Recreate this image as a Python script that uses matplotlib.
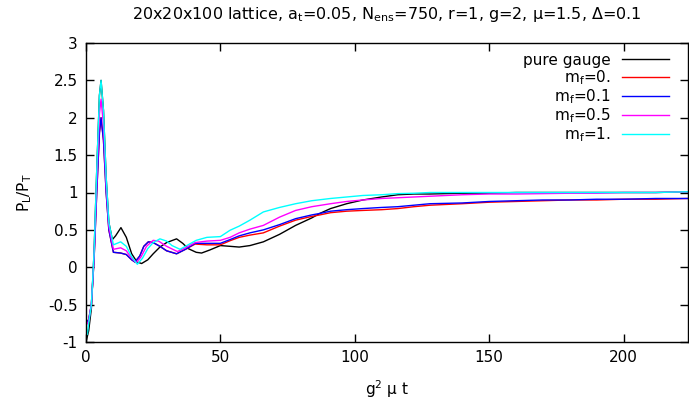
import matplotlib
matplotlib.use("Agg")
import matplotlib.pyplot as plt

plt.rcParams['font.family'] = ['DejaVu Sans']
plt.rcParams['mathtext.default'] = 'regular'
plt.rcParams['axes.unicode_minus'] = False

# pure gauge
t_pg = [0, 1, 2, 3, 4, 5, 5.6, 6.5, 7.5, 8.5, 9.8, 11, 13, 15, 17, 19, 20.7, 23, 25, 27.5, 30, 33.7, 36, 38, 41, 43, 46, 50,
        53.6, 57, 61, 66, 72, 78, 84, 87, 91, 97, 103, 110, 116, 122, 128, 140, 150, 160, 170, 180, 190, 200, 212, 224]
y_pg = [-1.0, -0.85, -0.55, 0.2, 1.3, 2.3, 2.5, 2.1, 1.2, 0.6, 0.37, 0.42, 0.53, 0.40, 0.18, 0.07, 0.05, 0.10, 0.18, 0.27,
        0.33, 0.38, 0.32, 0.25, 0.20, 0.19, 0.23, 0.29, 0.28, 0.27, 0.29, 0.34, 0.44, 0.56, 0.66, 0.72, 0.785, 0.85, 0.90,
        0.94, 0.97, 0.98, 0.98, 0.99, 0.99, 1.0, 1.0, 1.0, 1.0, 1.0, 1.0, 1.01]

# m_f = 0.
t_m0 = [0, 1, 2, 3, 4, 5, 5.6, 6.5, 7.5, 8.5, 10.2, 12.9, 15, 17, 18.2, 20, 21.5, 23.2, 25, 27.5, 30, 33.7, 37, 40.6, 45, 50,
        53.6, 57, 61, 66, 72, 78, 84, 87, 91, 97, 103, 110, 116, 122, 128, 140, 150, 160, 170, 180, 190, 200, 212, 224]
y_m0 = [-0.75, -0.7, -0.5, 0.1, 1.0, 1.8, 2.0, 1.7, 1.0, 0.5, 0.20, 0.19, 0.17, 0.10, 0.07, 0.15, 0.28, 0.34, 0.33, 0.28,
        0.22, 0.18, 0.24, 0.31, 0.30, 0.30, 0.355, 0.40, 0.43, 0.46, 0.55, 0.63, 0.68, 0.70, 0.73, 0.75, 0.76, 0.77, 0.785,
        0.81, 0.83, 0.85, 0.87, 0.88, 0.89, 0.90, 0.90, 0.91, 0.91, 0.92]

# m_f = 0.1
t_m01 = [0, 1, 2, 3, 4, 5, 5.6, 6.5, 7.5, 8.5, 10.2, 12.9, 15, 17, 18.2, 20, 21.5, 23.2, 25, 27.5, 30, 33.7, 37, 40.6, 45, 50,
         53.6, 57, 61, 66, 72, 78, 84, 87, 91, 97, 103, 110, 116, 122, 128, 140, 150, 160, 170, 180, 190, 200, 212, 224]
y_m01 = [-0.75, -0.7, -0.5, 0.1, 1.0, 1.8, 2.0, 1.7, 1.0, 0.5, 0.20, 0.19, 0.17, 0.10, 0.07, 0.15, 0.28, 0.34, 0.33, 0.28,
         0.22, 0.18, 0.24, 0.32, 0.32, 0.32, 0.37, 0.42, 0.46, 0.50, 0.57, 0.65, 0.70, 0.72, 0.75, 0.77, 0.785, 0.80, 0.81,
         0.83, 0.85, 0.86, 0.88, 0.89, 0.90, 0.90, 0.91, 0.91, 0.92, 0.92]

# m_f = 0.5
t_m05 = [0, 1, 2, 3, 4, 5, 5.6, 6.5, 7.5, 8.5, 10.2, 12.9, 15, 17, 18.7, 20.5, 22.5, 25, 27, 30, 34, 37, 40.6, 45, 50,
         53.6, 57, 61, 66, 72, 78, 84, 91, 97, 103, 110, 116, 122, 128, 140, 150, 160, 170, 180, 190, 200, 212, 224]
y_m05 = [-0.78, -0.72, -0.5, 0.15, 1.15, 2.05, 2.25, 1.9, 1.1, 0.55, 0.24, 0.26, 0.22, 0.12, 0.06, 0.14, 0.28, 0.36, 0.35,
         0.28, 0.21, 0.26, 0.33, 0.35, 0.36, 0.40, 0.46, 0.51, 0.56, 0.67, 0.76, 0.81, 0.85, 0.88, 0.90, 0.92, 0.93, 0.94,
         0.95, 0.97, 0.98, 0.98, 0.985, 0.99, 0.99, 1.0, 1.0, 1.01]

# m_f = 1.
t_m1 = [0, 0.5, 1, 2, 3, 4, 5, 5.6, 6.5, 7.5, 8.5, 10.2, 12.9, 15, 17, 19.1, 21, 23, 25, 27.5, 30, 32, 35, 38, 41, 45, 50,
        53.6, 57, 61, 66, 72, 78, 84, 91, 97, 103, 110, 116, 122, 128, 140, 150, 160, 170, 180, 190, 200, 212, 224]
y_m1 = [-0.8, -0.9, -0.75, -0.5, 0.2, 1.3, 2.3, 2.5, 2.1, 1.2, 0.6, 0.30, 0.34, 0.28, 0.14, 0.04, 0.12, 0.25, 0.33, 0.38,
        0.35, 0.29, 0.24, 0.30, 0.36, 0.40, 0.41, 0.495, 0.55, 0.63, 0.74, 0.80, 0.85, 0.89, 0.92, 0.94, 0.96, 0.97, 0.985,
        0.99, 1.0, 1.0, 1.0, 1.0, 1.0, 1.0, 1.0, 1.0, 1.0, 1.01]

labels = ["pure gauge", "m$_f$=0.", "m$_f$=0.1", "m$_f$=0.5", "m$_f$=1."]
colors = ["#000000", "#ff0000", "#0000ff", "#ff00ff", "#00ffff"]
x_ticks = [0, 50, 100, 150, 200]
y_ticks = [-1, -0.5, 0, 0.5, 1, 1.5, 2, 2.5, 3]
y_ticklabels = ["-1", "-0.5", "0", "0.5", "1", "1.5", "2", "2.5", "3"]

fs = 11
fig = plt.figure(figsize=(6.89, 4.0), dpi=100)
ax = fig.add_axes([86 / 689, 1 - 342 / 400, (688 - 86) / 689, (342 - 43) / 400])

series = [(t_pg, y_pg), (t_m0, y_m0), (t_m01, y_m01), (t_m05, y_m05), (t_m1, y_m1)]
for (t, y), lab, c in zip(series, labels, colors):
    ax.plot(t, y, color=c, lw=1.0, label=lab)

ax.set_xlim(0, 224)
ax.set_ylim(-1, 3)
ax.set_xticks(x_ticks)
ax.set_xticklabels([str(v) for v in x_ticks])
ax.set_yticks(y_ticks)
ax.set_yticklabels(y_ticklabels)
ax.tick_params(direction='in', length=6, width=1, top=True, right=True, labelsize=fs, pad=6)
for s in ax.spines.values():
    s.set_linewidth(1.0)

ax.set_xlabel("g$^2$ μ t", fontsize=fs, labelpad=9)
ax.set_ylabel("P$_L$/P$_T$", fontsize=fs, labelpad=10)
ax.set_title("20x20x100 lattice, a$_t$=0.05, N$_{ens}$=750, r=1, g=2, μ=1.5, Δ=0.1", fontsize=11.5, pad=17)

leg = ax.legend(loc='upper right', markerfirst=False, frameon=False, fontsize=fs,
                handlelength=3.1, handletextpad=0.75, labelspacing=0.02, borderaxespad=0.0,
                borderpad=0.0, bbox_to_anchor=(0.969, 0.968))
for txt in leg.get_texts():
    txt.set_ha('right')

fig.savefig("out.png", dpi=100)
